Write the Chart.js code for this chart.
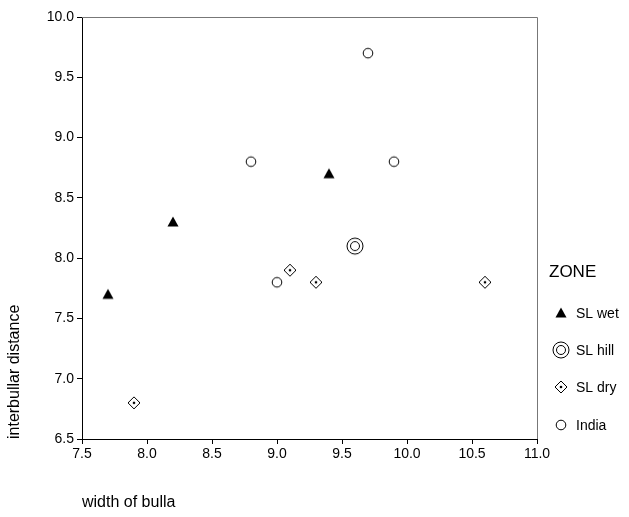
<!DOCTYPE html>
<html>
<head>
<meta charset="utf-8">
<script src="https://cdn.jsdelivr.net/npm/chart.js@4"></script>
<style>
  html, body { margin: 0; padding: 0; background: #fff; }
  #wrap { width: 629px; height: 517px; }
</style>
</head>
<body>
<div id="wrap"><canvas id="chart" width="629" height="517"></canvas></div>
<script>
// zone labels and their (width of bulla, interbullar distance) values
const zones = ['SL wet', 'SL hill', 'SL dry', 'India'];
const slWetX = [7.7, 8.2, 9.4];
const slWetY = [7.7, 8.3, 8.7];
const slHillX = [9.6];
const slHillY = [8.1];
const slDryX = [7.9, 9.1, 9.3, 10.6];
const slDryY = [6.8, 7.9, 7.8, 7.8];
const indiaX = [9.0, 8.8, 9.7, 9.9];
const indiaY = [7.8, 8.8, 9.7, 8.8];
const xTicks = [7.5, 8.0, 8.5, 9.0, 9.5, 10.0, 10.5, 11.0];
const yTicks = [6.5, 7.0, 7.5, 8.0, 8.5, 9.0, 9.5, 10.0];

const FONT = '"Liberation Sans", Arial, sans-serif';
const toPoints = (xs, ys) => xs.map((x, i) => ({ x, y: ys[i] }));

const makeMarker = (size, draw) => {
  const c = document.createElement('canvas');
  c.width = c.height = size;
  const ctx = c.getContext('2d');
  ctx.strokeStyle = '#000';
  ctx.fillStyle = '#000';
  ctx.lineWidth = 1;
  draw(ctx, size / 2);
  return c;
};

const triangleMarker = makeMarker(14, (ctx, m) => {
  ctx.beginPath();
  ctx.moveTo(m, m - 5.5);
  ctx.lineTo(m + 5.5, m + 4.5);
  ctx.lineTo(m - 5.5, m + 4.5);
  ctx.closePath();
  ctx.fill();
});

const hillMarker = makeMarker(20, (ctx, m) => {
  ctx.beginPath();
  ctx.arc(m, m, 8, 0, Math.PI * 2);
  ctx.stroke();
  ctx.beginPath();
  ctx.arc(m, m, 4.5, 0, Math.PI * 2);
  ctx.stroke();
});

const dryMarker = makeMarker(16, (ctx, m) => {
  ctx.beginPath();
  ctx.moveTo(m, m - 6);
  ctx.lineTo(m + 6, m);
  ctx.lineTo(m, m + 6);
  ctx.lineTo(m - 6, m);
  ctx.closePath();
  ctx.stroke();
  ctx.beginPath();
  ctx.arc(m, m, 1.3, 0, Math.PI * 2);
  ctx.fill();
});

const indiaMarker = makeMarker(14, (ctx, m) => {
  ctx.beginPath();
  ctx.arc(m, m, 4.8, 0, Math.PI * 2);
  ctx.stroke();
});

const markers = [triangleMarker, hillMarker, dryMarker, indiaMarker];

// gray top/right frame
const framePlugin = {
  id: 'frame',
  beforeDatasetsDraw(chart) {
    const { ctx, chartArea: a } = chart;
    ctx.save();
    ctx.strokeStyle = '#777';
    ctx.lineWidth = 1;
    ctx.beginPath();
    ctx.moveTo(a.left, a.top + 0.5);
    ctx.lineTo(a.right + 0.5, a.top + 0.5);
    ctx.lineTo(a.right + 0.5, a.bottom);
    ctx.stroke();
    ctx.restore();
  }
};

// ZONE legend at the right
const zoneLegend = {
  id: 'zoneLegend',
  afterDraw(chart) {
    const { ctx } = chart;
    const rows = [313, 350, 387, 425];
    ctx.save();
    ctx.fillStyle = '#000';
    ctx.textBaseline = 'middle';
    ctx.textAlign = 'left';
    ctx.font = '17px ' + FONT;
    ctx.fillText('ZONE', 549, 272);
    ctx.font = '14px ' + FONT;
    zones.forEach((z, i) => {
      const mk = markers[i];
      ctx.drawImage(mk, 561 - mk.width / 2, rows[i] - mk.height / 2);
      ctx.fillText(z, 576, rows[i] + 1);
    });
    ctx.restore();
  }
};

new Chart(document.getElementById('chart'), {
  type: 'scatter',
  data: {
    datasets: [
      { label: zones[0], data: toPoints(slWetX, slWetY), pointStyle: triangleMarker },
      { label: zones[1], data: toPoints(slHillX, slHillY), pointStyle: hillMarker },
      { label: zones[2], data: toPoints(slDryX, slDryY), pointStyle: dryMarker },
      { label: zones[3], data: toPoints(indiaX, indiaY), pointStyle: indiaMarker }
    ]
  },
  options: {
    responsive: false,
    animation: false,
    layout: { padding: { left: 0, top: 17, right: 92, bottom: 0 } },
    plugins: { legend: { display: false }, tooltip: { enabled: false } },
    scales: {
      x: {
        type: 'linear',
        min: 7.5,
        max: 11,
        afterBuildTicks: scale => { scale.ticks = xTicks.map(v => ({ value: v })); },
        afterFit: scale => { scale.height = 78; },
        ticks: { color: '#000', font: { family: FONT, size: 14 }, padding: 2, maxRotation: 0, callback: v => v.toFixed(1) },
        grid: { drawOnChartArea: false, drawTicks: true, tickLength: 5, color: '#000' },
        border: { display: true, color: '#000', width: 1 },
        title: { display: true, text: 'width of bulla', align: 'start', color: '#000', font: { family: FONT, size: 16 }, padding: { top: 0, bottom: 5 } }
      },
      y: {
        type: 'linear',
        min: 6.5,
        max: 10,
        afterBuildTicks: scale => { scale.ticks = yTicks.map(v => ({ value: v })); },
        afterFit: scale => { scale.width = 82; },
        ticks: { color: '#000', font: { family: FONT, size: 14 }, padding: 3, callback: v => v.toFixed(1) },
        grid: { drawOnChartArea: false, drawTicks: true, tickLength: 5, color: '#000' },
        border: { display: true, color: '#000', width: 1 },
        title: { display: true, text: 'interbullar distance', align: 'start', color: '#000', font: { family: FONT, size: 16 }, padding: { top: 5, bottom: 0 } }
      }
    }
  },
  plugins: [framePlugin, zoneLegend]
});
</script>
</body>
</html>
